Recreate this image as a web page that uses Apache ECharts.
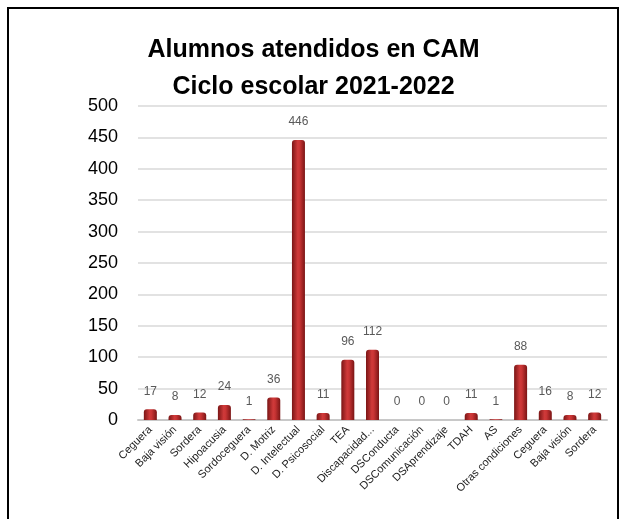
<!DOCTYPE html>
<html>
<head>
<meta charset="utf-8">
<script src="https://cdn.jsdelivr.net/npm/echarts@6/dist/echarts.min.js"></script>
<style>
    html, body { margin: 0; padding: 0; background: #fff; }
    .frame {
        position: absolute;
        left: 7px; top: 7px;
        width: 612px; height: 530px;
        border: 2px solid #000;
        box-sizing: border-box;
    }
    #chart { position: absolute; left: 0; top: 0; width: 627px; height: 519px; }
</style>
</head>
<body>
<div id="chart"></div>
<div class="frame"></div>
<script>
// categorias y valores
const categorias = ['Ceguera', 'Baja visión', 'Sordera', 'Hipoacusia', 'Sordoceguera', 'D. Motriz',
    'D. Intelectual', 'D. Psicosocial', 'TEA', 'Discapacidad...', 'DSConducta', 'DSComunicación',
    'DSAprendizaje', 'TDAH', 'AS', 'Otras condiciones', 'Ceguera', 'Baja visión', 'Sordera'];
const alumnos = [17, 8, 12, 24, 1, 36, 446, 11, 96, 112, 0, 0, 0, 11, 1, 88, 16, 8, 12];
const titulo = ['Alumnos atendidos en CAM', 'Ciclo escolar 2021-2022'];

let myChart = echarts.init(document.getElementById('chart'));
myChart.setOption({
    animation: false,
    title: {
        text: titulo.join('\n'),
        left: 'center',
        top: 27,
        textStyle: {
            fontFamily: 'Liberation Sans',
            fontWeight: 'bold',
            fontSize: 25,
            lineHeight: 37,
            color: '#000'
        }
    },
    grid: {
        left: 138,
        right: 20,
        top: 106,
        bottom: 99
    },
    xAxis: {
        type: 'category',
        data: categorias,
        axisTick: { show: false },
        axisLine: { lineStyle: { color: '#c8c8c8', width: 2 } },
        axisLabel: {
            rotate: 45,
            interval: 0,
            margin: 8,
            fontFamily: 'Liberation Sans',
            fontSize: 11,
            color: '#222'
        }
    },
    yAxis: {
        type: 'value',
        min: 0,
        max: 500,
        interval: 50,
        axisLine: { show: false },
        axisTick: { show: false },
        //lineas de division
        splitLine: { lineStyle: { color: '#d9d9d9', width: 1.5 } },
        axisLabel: {
            margin: 20,
            fontFamily: 'Liberation Sans',
            fontSize: 18,
            color: '#000'
        }
    },
    series: [
        {
            type: 'bar',
            data: alumnos,
            barWidth: 13,
            itemStyle: {
                color: {
                    type: 'linear',
                    x: 0, y: 0, x2: 1, y2: 0,
                    colorStops: [
                        { offset: 0, color: '#7a1515' },
                        { offset: 0.45, color: '#d03a3a' },
                        { offset: 0.6, color: '#c83434' },
                        { offset: 1, color: '#7a1515' }
                    ]
                },
                borderRadius: [3, 3, 0, 0]
            },
            label: {
                show: true,
                position: 'top',
                distance: 12,
                fontFamily: 'Liberation Sans',
                fontSize: 12,
                color: '#595959'
            }
        }
    ]
});
</script>
</body>
</html>
